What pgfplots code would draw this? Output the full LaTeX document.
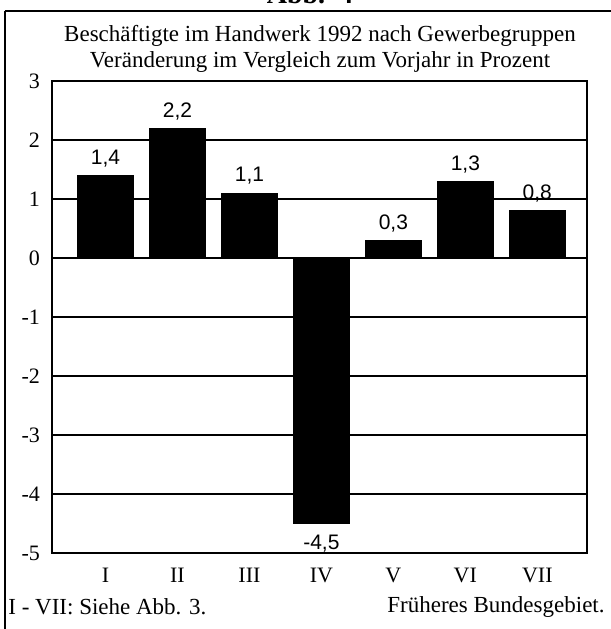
\documentclass[border=0pt]{standalone}
\usepackage{fontspec}
\setmainfont{Liberation Serif}
\newfontfamily\arialfont{Liberation Sans}
\usepackage{pgfplots}
\pgfplotsset{compat=1.18}
\begin{document}
\begin{tikzpicture}
\useasboundingbox (0,0) rectangle (305.5pt,314.5pt);
% outer frame (left and top edges visible)
\draw[line width=1.4pt] (2.5pt,309pt) -- (2.5pt,-5pt);
\draw[line width=1pt] (2.5pt,309pt) -- (310pt,309pt);
% partially visible heading above the frame
\node[anchor=base, font=\bfseries\fontsize{14}{16}\selectfont] at (155pt,312.8pt) {Abb.~~4};
\begin{axis}[
  at={(26pt,38pt)}, anchor=south west,
  scale only axis, width=267.5pt, height=236pt,
  xmin=-0.743, xmax=6.69, ymin=-5, ymax=3,
  ybar, bar width=28pt,
  xtick={0,...,6}, xticklabels={I,II,III,IV,V,VI,VII},
  ytick={-5,...,3}, yticklabels={-5,-4,-3,-2,-1,0,1,2,3},
  major tick length=0pt,
  ymajorgrids, grid style={black, line width=0.8pt},
  axis line style={black, line width=0.9pt},
  tick label style={font=\fontsize{11}{13}\selectfont},
  xticklabel style={yshift=-4pt},
  yticklabel style={xshift=-2.5pt},
  nodes near coords={\pgfmathprintnumber[use comma,fixed,precision=1,fixed zerofill]{\pgfplotspointmeta}},
  nodes near coords style={font=\arialfont\fontsize{10.5}{12}\selectfont, text depth=0pt, inner ysep=5.4pt, /pgf/number format/assume math mode=true},
  clip=false,
]
\addplot[fill=black, draw=black] coordinates {(0,1.4) (1,2.2) (2,1.1) (3,-4.5) (4,0.3) (5,1.3) (6,0.8)};
\end{axis}
\node[font=\fontsize{11.5}{13}\selectfont] at (160pt,296.5pt) {Beschäftigte im Handwerk 1992 nach Gewerbegruppen};
\node[font=\fontsize{11.5}{13}\selectfont] at (160pt,283.5pt) {Veränderung im Vergleich zum Vorjahr in Prozent};
\node[anchor=west, inner xsep=0pt, font=\fontsize{11.5}{13}\selectfont] at (4pt,11pt) {I - VII: Siehe Abb. 3.};
\node[anchor=east, inner xsep=0pt, font=\fontsize{11.5}{13}\selectfont] at (302.5pt,11pt) {Früheres Bundesgebiet.};
\end{tikzpicture}
\end{document}
